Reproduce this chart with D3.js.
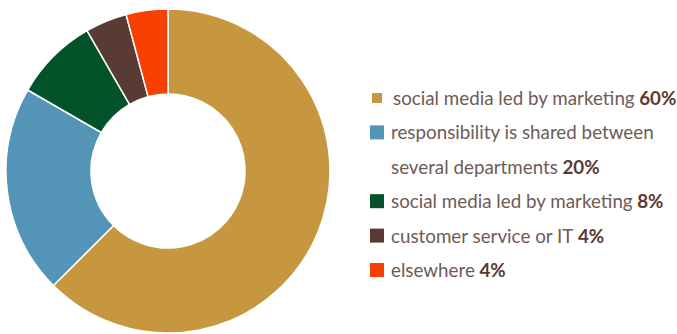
<!DOCTYPE html>
<html>
<head>
<meta charset="utf-8">
<script src="https://cdn.jsdelivr.net/npm/d3@7"></script>
<style>
  html, body { margin: 0; padding: 0; background: #fff; }
  svg { display: block; }
  text { font-family: Lato, "Open Sans", sans-serif; }
</style>
</head>
<body>
<svg id="chart" width="677" height="334"></svg>
<script>
const categories = [
  "social media led by marketing",
  "responsibility is shared between several departments",
  "social media led by marketing",
  "customer service or IT",
  "elsewhere"
];
const labelLines = [
  ["social media led by marketing"],
  ["responsibility is shared between", "several departments"],
  ["social media led by marketing"],
  ["customer service or IT"],
  ["elsewhere"]
];
const values = [60, 20, 8, 4, 4];
const colors = ["#C6973F", "#5495B7", "#02522A", "#5A3B33", "#F93F02"];

const svg = d3.select("#chart");
const cx = 168, cy = 171, rOuter = 162, rInner = 77;

const pie = d3.pie().sort(null).value(d => d.v);
const arc = d3.arc().innerRadius(rInner).outerRadius(rOuter);
const data = values.map((v, i) => ({ v, i }));

svg.append("g")
  .attr("transform", `translate(${cx},${cy})`)
  .selectAll("path")
  .data(pie(data))
  .join("path")
  .attr("d", arc)
  .attr("fill", d => colors[d.data.i])
  .attr("stroke", "#fff")
  .attr("stroke-width", 1.5)
  .attr("stroke-linejoin", "round");

// Legend
const rowY = d3.scalePoint().domain(d3.range(6)).range([105, 277]);
let row = 0;
const legend = svg.append("g");
labelLines.forEach((lines, i) => {
  const base = rowY(row);
  const sx = i === 0 ? 372 : 370;
  legend.append("rect")
    .attr("x", sx).attr("y", base - 12 - (i === 0 ? 0 : 2))
    .attr("width", i === 0 ? 10 : 14).attr("height", i === 0 ? 10 : 14)
    .attr("fill", colors[i]);
  lines.forEach((line, j) => {
    const t = legend.append("text")
      .attr("x", i === 0 ? 393 : 391)
      .attr("y", rowY(row + j))
      .attr("font-size", 18.8)
      .attr("fill", "#6f5a56");
    t.append("tspan").text(line);
    if (j === lines.length - 1) {
      t.append("tspan")
        .attr("font-weight", "bold")
        .attr("fill", "#5a3a32")
        .text(" " + values[i] + "%");
    }
  });
  row += lines.length;
});
</script>
</body>
</html>
